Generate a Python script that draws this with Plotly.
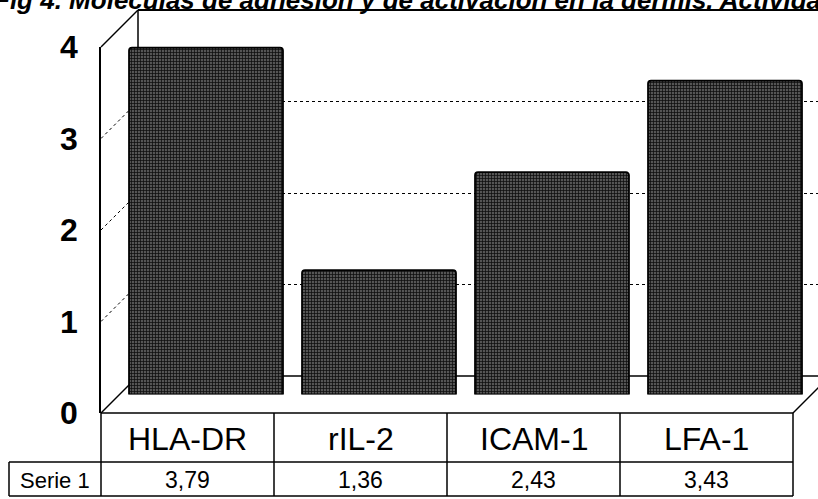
import plotly.graph_objects as go

# ---- data ----
categories = ["HLA-DR", "rIL-2", "ICAM-1", "LFA-1"]
series_name = "Serie 1"
values = [3.79, 1.36, 2.43, 3.43]
y_ticks = [0, 1, 2, 3, 4]
title_text = "Fig 4. Moléculas de adhesión y de activación en la dermis. Actividad"

# ---- canvas geometry (pixels) ----
W, H = 818, 499
FRONT_LEFT, FRONT_RIGHT = 101, 793      # front edge of floor / table columns
FRONT_ZERO = 413                        # pixel row of value 0 on the front face
UNIT = 91.5                             # pixels per unit
DEPTH = 37                              # oblique depth offset (x right, y up)
VMAX = 4
TABLE_LEFT = 9
ROW1_BOTTOM, ROW2_BOTTOM = 462, 496
FONT = "Liberation Sans, Arial, sans-serif"


def fx(p):
    return p / W


def fy(p):
    return 1 - p / H


def ydomain(zero_px):
    return [fy(zero_px), fy(zero_px - VMAX * UNIT)]


fig = go.Figure()

# subplot 1: back wall with dotted gridlines
fig.add_trace(go.Scatter(x=[0], y=[0], mode="markers", marker=dict(opacity=0),
                         hoverinfo="skip", showlegend=False, xaxis="x", yaxis="y"))
# subplot 2: front value axis and the category columns of the table
fig.add_trace(go.Scatter(x=categories, y=[0] * len(categories), mode="markers",
                         marker=dict(opacity=0), hoverinfo="skip", showlegend=False,
                         xaxis="x2", yaxis="y2"))
# subplot 3: the bars, set half way into the depth
fig.add_trace(go.Bar(
    x=categories, y=values, name=series_name, xaxis="x3", yaxis="y3",
    marker=dict(color="#121212", line=dict(color="black", width=1.8), cornerradius=3,
                pattern=dict(shape=".", bgcolor="#121212", fgcolor="#e6e6e6",
                             size=3, solidity=0.18)),
    showlegend=False, hoverinfo="skip",
))

back_zero = FRONT_ZERO - DEPTH
bar_shift = DEPTH / 2
cat_range = [-0.5, len(categories) - 0.5]

axis_hidden = dict(showgrid=False, zeroline=False, showticklabels=False, showline=False,
                   ticks="", automargin=False)

fig.update_layout(
    template="none",
    width=W, height=H, margin=dict(l=0, r=0, t=0, b=0, pad=0, autoexpand=False),
    paper_bgcolor="white", plot_bgcolor="rgba(0,0,0,0)",
    font=dict(family=FONT, color="black"),
    bargap=0.11, showlegend=False,
    xaxis=dict(domain=[fx(FRONT_LEFT + DEPTH), 1], range=[0, 1], **axis_hidden),
    yaxis=dict(domain=ydomain(back_zero), range=[0, VMAX], anchor="x",
               showgrid=True, gridcolor="black", gridwidth=1, griddash="dot",
               tickvals=[t for t in y_ticks if 0 < t < VMAX], automargin=False,
               showticklabels=False, zeroline=False, showline=False, ticks=""),
    xaxis2=dict(domain=[fx(FRONT_LEFT), fx(FRONT_RIGHT)], type="category",
                categoryorder="array", categoryarray=categories, range=cat_range,
                **axis_hidden),
    yaxis2=dict(domain=ydomain(FRONT_ZERO), range=[0, VMAX], anchor="x2",
                tickvals=y_ticks, ticktext=[f"<b>{t}</b>" for t in y_ticks],
                tickfont=dict(size=32, family=FONT, color="black"),
                ticks="", ticklabelstandoff=15, showgrid=False, zeroline=False,
                automargin=False, showline=True, linecolor="black", linewidth=1.5),
    xaxis3=dict(domain=[fx(FRONT_LEFT + bar_shift), fx(FRONT_RIGHT + bar_shift)],
                type="category", categoryorder="array", categoryarray=categories,
                range=cat_range, **axis_hidden),
    yaxis3=dict(domain=ydomain(FRONT_ZERO - bar_shift), range=[0, VMAX], anchor="x3",
                **axis_hidden),
)

shapes = []


def seg(x0, y0, x1, y1, width=1.5, dash="solid", layer="below"):
    shapes.append(dict(type="line", xref="paper", yref="paper",
                       x0=fx(x0), y0=fy(y0), x1=fx(x1), y1=fy(y1),
                       line=dict(color="black", width=width, dash=dash), layer=layer))


back_left = FRONT_LEFT + DEPTH
top_front = FRONT_ZERO - VMAX * UNIT
top_back = back_zero - VMAX * UNIT

# back wall and left wall frame
seg(back_left, top_back, W + 2, top_back, width=2.2)
seg(back_left, top_back, back_left, back_zero)
seg(FRONT_LEFT, top_front, back_left, top_back)
seg(FRONT_LEFT, FRONT_ZERO, back_left, back_zero)
seg(back_left, back_zero, W + 2, back_zero)
# dotted gridlines running across the left wall
for t in y_ticks:
    if 0 < t < VMAX:
        seg(FRONT_LEFT, FRONT_ZERO - t * UNIT, back_left, back_zero - t * UNIT,
            width=1, dash="dot")
# floor: front edge and right-hand diagonal
seg(FRONT_LEFT, FRONT_ZERO, FRONT_RIGHT, FRONT_ZERO)
seg(FRONT_RIGHT, FRONT_ZERO, FRONT_RIGHT + DEPTH, back_zero)

# data table grid
col_w = (FRONT_RIGHT - FRONT_LEFT) / len(categories)
for i in range(len(categories) + 1):
    xx = FRONT_LEFT + i * col_w
    seg(xx, FRONT_ZERO, xx, ROW2_BOTTOM, layer="above")
seg(TABLE_LEFT, ROW1_BOTTOM, FRONT_RIGHT, ROW1_BOTTOM, layer="above")
seg(TABLE_LEFT, ROW2_BOTTOM, FRONT_RIGHT, ROW2_BOTTOM, layer="above")
seg(TABLE_LEFT, ROW1_BOTTOM, TABLE_LEFT, ROW2_BOTTOM, layer="above")

fig.update_layout(shapes=shapes)

annotations = []
row1_mid = (FRONT_ZERO + ROW1_BOTTOM) / 2 + 1
row2_mid = (ROW1_BOTTOM + ROW2_BOTTOM) / 2 + 1
for cat, val in zip(categories, values):
    annotations.append(dict(xref="x2", yref="paper", x=cat, y=fy(row1_mid),
                            text=cat, showarrow=False, xanchor="center", yanchor="middle",
                            font=dict(size=32, family=FONT)))
    annotations.append(dict(xref="x2", yref="paper", x=cat, y=fy(row2_mid),
                            text=f"{val:.2f}".replace(".", ","), showarrow=False,
                            xanchor="center", yanchor="middle",
                            font=dict(size=23, family=FONT)))
annotations.append(dict(xref="paper", yref="paper", x=fx((TABLE_LEFT + FRONT_LEFT) / 2),
                        y=fy(row2_mid), text=series_name, showarrow=False,
                        xanchor="center", yanchor="middle", font=dict(size=22, family=FONT)))
# heading, partly running off the top of the page
annotations.append(dict(xref="paper", yref="paper", x=fx(-8), y=fy(0),
                        xanchor="left", yanchor="middle", text=f"<b><i>{title_text}</i></b>",
                        showarrow=False, font=dict(size=26, family=FONT)))
fig.update_layout(annotations=annotations)

fig.write_html("out.html")
